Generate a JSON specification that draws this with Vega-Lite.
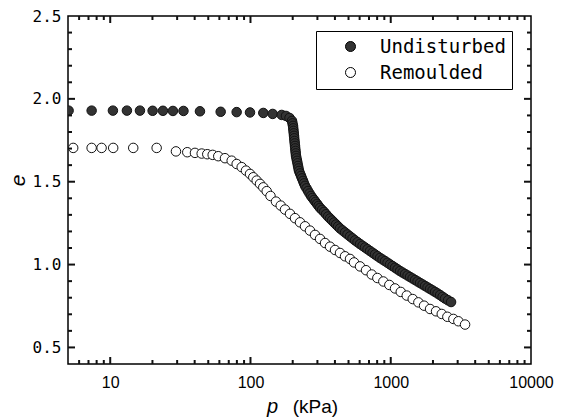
{
  "$schema": "https://vega.github.io/schema/vega-lite/v6.json",
  "width": 463,
  "height": 348,
  "autosize": {"type": "none"},
  "padding": {"left": 68, "top": 16, "right": 30, "bottom": 53},
  "background": "white",
  "datasets": {
    "pts": [
    {"p": 5.05, "e": 1.929, "s": "Undisturbed"},
    {"p": 7.37, "e": 1.929, "s": "Undisturbed"},
    {"p": 10.45, "e": 1.929, "s": "Undisturbed"},
    {"p": 13.15, "e": 1.929, "s": "Undisturbed"},
    {"p": 16.29, "e": 1.929, "s": "Undisturbed"},
    {"p": 20.06, "e": 1.928, "s": "Undisturbed"},
    {"p": 23.76, "e": 1.928, "s": "Undisturbed"},
    {"p": 28.0, "e": 1.927, "s": "Undisturbed"},
    {"p": 33.28, "e": 1.927, "s": "Undisturbed"},
    {"p": 43.63, "e": 1.925, "s": "Undisturbed"},
    {"p": 61.3, "e": 1.922, "s": "Undisturbed"},
    {"p": 79.7, "e": 1.92, "s": "Undisturbed"},
    {"p": 99.2, "e": 1.918, "s": "Undisturbed"},
    {"p": 123.4, "e": 1.915, "s": "Undisturbed"},
    {"p": 144.0, "e": 1.909, "s": "Undisturbed"},
    {"p": 167.0, "e": 1.903, "s": "Undisturbed"},
    {"p": 179.1, "e": 1.897, "s": "Undisturbed"},
    {"p": 189.8, "e": 1.885, "s": "Undisturbed"},
    {"p": 197.7, "e": 1.867, "s": "Undisturbed"},
    {"p": 199.3, "e": 1.852, "s": "Undisturbed"},
    {"p": 201.0, "e": 1.837, "s": "Undisturbed"},
    {"p": 201.8, "e": 1.822, "s": "Undisturbed"},
    {"p": 202.7, "e": 1.807, "s": "Undisturbed"},
    {"p": 203.5, "e": 1.792, "s": "Undisturbed"},
    {"p": 204.3, "e": 1.777, "s": "Undisturbed"},
    {"p": 205.1, "e": 1.762, "s": "Undisturbed"},
    {"p": 206.0, "e": 1.746, "s": "Undisturbed"},
    {"p": 206.8, "e": 1.731, "s": "Undisturbed"},
    {"p": 207.7, "e": 1.716, "s": "Undisturbed"},
    {"p": 208.5, "e": 1.701, "s": "Undisturbed"},
    {"p": 209.4, "e": 1.686, "s": "Undisturbed"},
    {"p": 210.2, "e": 1.671, "s": "Undisturbed"},
    {"p": 211.1, "e": 1.656, "s": "Undisturbed"},
    {"p": 212.8, "e": 1.641, "s": "Undisturbed"},
    {"p": 214.6, "e": 1.626, "s": "Undisturbed"},
    {"p": 216.4, "e": 1.611, "s": "Undisturbed"},
    {"p": 218.2, "e": 1.595, "s": "Undisturbed"},
    {"p": 220.0, "e": 1.58, "s": "Undisturbed"},
    {"p": 221.8, "e": 1.565, "s": "Undisturbed"},
    {"p": 225.5, "e": 1.55, "s": "Undisturbed"},
    {"p": 229.2, "e": 1.535, "s": "Undisturbed"},
    {"p": 233.0, "e": 1.52, "s": "Undisturbed"},
    {"p": 236.9, "e": 1.505, "s": "Undisturbed"},
    {"p": 240.8, "e": 1.49, "s": "Undisturbed"},
    {"p": 244.8, "e": 1.475, "s": "Undisturbed"},
    {"p": 250.9, "e": 1.46, "s": "Undisturbed"},
    {"p": 257.2, "e": 1.444, "s": "Undisturbed"},
    {"p": 263.6, "e": 1.429, "s": "Undisturbed"},
    {"p": 270.2, "e": 1.414, "s": "Undisturbed"},
    {"p": 276.9, "e": 1.402, "s": "Undisturbed"},
    {"p": 283.8, "e": 1.39, "s": "Undisturbed"},
    {"p": 290.9, "e": 1.378, "s": "Undisturbed"},
    {"p": 298.2, "e": 1.366, "s": "Undisturbed"},
    {"p": 305.6, "e": 1.354, "s": "Undisturbed"},
    {"p": 313.2, "e": 1.342, "s": "Undisturbed"},
    {"p": 323.7, "e": 1.33, "s": "Undisturbed"},
    {"p": 334.5, "e": 1.318, "s": "Undisturbed"},
    {"p": 345.6, "e": 1.304, "s": "Undisturbed"},
    {"p": 357.1, "e": 1.29, "s": "Undisturbed"},
    {"p": 369.1, "e": 1.278, "s": "Undisturbed"},
    {"p": 381.4, "e": 1.266, "s": "Undisturbed"},
    {"p": 394.1, "e": 1.254, "s": "Undisturbed"},
    {"p": 407.3, "e": 1.242, "s": "Undisturbed"},
    {"p": 420.9, "e": 1.23, "s": "Undisturbed"},
    {"p": 434.9, "e": 1.218, "s": "Undisturbed"},
    {"p": 453.1, "e": 1.206, "s": "Undisturbed"},
    {"p": 472.1, "e": 1.194, "s": "Undisturbed"},
    {"p": 491.6, "e": 1.182, "s": "Undisturbed"},
    {"p": 512.5, "e": 1.17, "s": "Undisturbed"},
    {"p": 534.0, "e": 1.158, "s": "Undisturbed"},
    {"p": 556.4, "e": 1.146, "s": "Undisturbed"},
    {"p": 579.7, "e": 1.135, "s": "Undisturbed"},
    {"p": 604.0, "e": 1.124, "s": "Undisturbed"},
    {"p": 629.3, "e": 1.1135, "s": "Undisturbed"},
    {"p": 655.7, "e": 1.103, "s": "Undisturbed"},
    {"p": 683.2, "e": 1.0925, "s": "Undisturbed"},
    {"p": 711.8, "e": 1.082, "s": "Undisturbed"},
    {"p": 741.6, "e": 1.0715, "s": "Undisturbed"},
    {"p": 772.7, "e": 1.061, "s": "Undisturbed"},
    {"p": 805.0, "e": 1.0505, "s": "Undisturbed"},
    {"p": 838.8, "e": 1.04, "s": "Undisturbed"},
    {"p": 873.9, "e": 1.0305, "s": "Undisturbed"},
    {"p": 910.5, "e": 1.021, "s": "Undisturbed"},
    {"p": 948.8, "e": 1.011, "s": "Undisturbed"},
    {"p": 988.6, "e": 1.001, "s": "Undisturbed"},
    {"p": 1030, "e": 0.991, "s": "Undisturbed"},
    {"p": 1073, "e": 0.981, "s": "Undisturbed"},
    {"p": 1118, "e": 0.971, "s": "Undisturbed"},
    {"p": 1165, "e": 0.961, "s": "Undisturbed"},
    {"p": 1214, "e": 0.952, "s": "Undisturbed"},
    {"p": 1265, "e": 0.943, "s": "Undisturbed"},
    {"p": 1318, "e": 0.934, "s": "Undisturbed"},
    {"p": 1373, "e": 0.925, "s": "Undisturbed"},
    {"p": 1431, "e": 0.916, "s": "Undisturbed"},
    {"p": 1491, "e": 0.907, "s": "Undisturbed"},
    {"p": 1553, "e": 0.898, "s": "Undisturbed"},
    {"p": 1618, "e": 0.889, "s": "Undisturbed"},
    {"p": 1686, "e": 0.88, "s": "Undisturbed"},
    {"p": 1757, "e": 0.871, "s": "Undisturbed"},
    {"p": 1830, "e": 0.862, "s": "Undisturbed"},
    {"p": 1907, "e": 0.853, "s": "Undisturbed"},
    {"p": 1987, "e": 0.844, "s": "Undisturbed"},
    {"p": 2070, "e": 0.835, "s": "Undisturbed"},
    {"p": 2157, "e": 0.8255, "s": "Undisturbed"},
    {"p": 2248, "e": 0.816, "s": "Undisturbed"},
    {"p": 2342, "e": 0.8055, "s": "Undisturbed"},
    {"p": 2440, "e": 0.795, "s": "Undisturbed"},
    {"p": 2563, "e": 0.7845, "s": "Undisturbed"},
    {"p": 2692, "e": 0.774, "s": "Undisturbed"},
    {"p": 5.445, "e": 1.704, "s": "Remoulded"},
    {"p": 7.37, "e": 1.704, "s": "Remoulded"},
    {"p": 8.68, "e": 1.704, "s": "Remoulded"},
    {"p": 10.5, "e": 1.704, "s": "Remoulded"},
    {"p": 14.59, "e": 1.704, "s": "Remoulded"},
    {"p": 21.43, "e": 1.704, "s": "Remoulded"},
    {"p": 29.42, "e": 1.683, "s": "Remoulded"},
    {"p": 35.42, "e": 1.678, "s": "Remoulded"},
    {"p": 40.19, "e": 1.674, "s": "Remoulded"},
    {"p": 44.87, "e": 1.67, "s": "Remoulded"},
    {"p": 49.19, "e": 1.666, "s": "Remoulded"},
    {"p": 53.76, "e": 1.662, "s": "Remoulded"},
    {"p": 58.93, "e": 1.654, "s": "Remoulded"},
    {"p": 65.8, "e": 1.642, "s": "Remoulded"},
    {"p": 73.44, "e": 1.627, "s": "Remoulded"},
    {"p": 79.71, "e": 1.607, "s": "Remoulded"},
    {"p": 86.55, "e": 1.588, "s": "Remoulded"},
    {"p": 92.87, "e": 1.567, "s": "Remoulded"},
    {"p": 99.18, "e": 1.547, "s": "Remoulded"},
    {"p": 104.7, "e": 1.527, "s": "Remoulded"},
    {"p": 110.7, "e": 1.507, "s": "Remoulded"},
    {"p": 116.9, "e": 1.487, "s": "Remoulded"},
    {"p": 123.4, "e": 1.466, "s": "Remoulded"},
    {"p": 130.5, "e": 1.443, "s": "Remoulded"},
    {"p": 138.9, "e": 1.414, "s": "Remoulded"},
    {"p": 152.0, "e": 1.38, "s": "Remoulded"},
    {"p": 164.3, "e": 1.356, "s": "Remoulded"},
    {"p": 176.3, "e": 1.332, "s": "Remoulded"},
    {"p": 191.3, "e": 1.306, "s": "Remoulded"},
    {"p": 207.7, "e": 1.28, "s": "Remoulded"},
    {"p": 225.5, "e": 1.255, "s": "Remoulded"},
    {"p": 244.8, "e": 1.231, "s": "Remoulded"},
    {"p": 265.7, "e": 1.205, "s": "Remoulded"},
    {"p": 288.5, "e": 1.179, "s": "Remoulded"},
    {"p": 313.2, "e": 1.155, "s": "Remoulded"},
    {"p": 340.0, "e": 1.13, "s": "Remoulded"},
    {"p": 369.0, "e": 1.108, "s": "Remoulded"},
    {"p": 400.6, "e": 1.088, "s": "Remoulded"},
    {"p": 434.9, "e": 1.07, "s": "Remoulded"},
    {"p": 472.1, "e": 1.05, "s": "Remoulded"},
    {"p": 512.5, "e": 1.034, "s": "Remoulded"},
    {"p": 547.4, "e": 1.013, "s": "Remoulded"},
    {"p": 604.0, "e": 0.989, "s": "Remoulded"},
    {"p": 666.5, "e": 0.966, "s": "Remoulded"},
    {"p": 732.0, "e": 0.94, "s": "Remoulded"},
    {"p": 802.7, "e": 0.919, "s": "Remoulded"},
    {"p": 885.4, "e": 0.898, "s": "Remoulded"},
    {"p": 977.2, "e": 0.877, "s": "Remoulded"},
    {"p": 1073, "e": 0.856, "s": "Remoulded"},
    {"p": 1179, "e": 0.835, "s": "Remoulded"},
    {"p": 1301, "e": 0.813, "s": "Remoulded"},
    {"p": 1435, "e": 0.792, "s": "Remoulded"},
    {"p": 1574, "e": 0.772, "s": "Remoulded"},
    {"p": 1728, "e": 0.752, "s": "Remoulded"},
    {"p": 1907, "e": 0.732, "s": "Remoulded"},
    {"p": 2104, "e": 0.718, "s": "Remoulded"},
    {"p": 2311, "e": 0.702, "s": "Remoulded"},
    {"p": 2533, "e": 0.685, "s": "Remoulded"},
    {"p": 2796, "e": 0.672, "s": "Remoulded"},
    {"p": 3035, "e": 0.658, "s": "Remoulded"},
    {"p": 3388, "e": 0.638, "s": "Remoulded"}
    ],
    "xt": [
      {"v": 6, "k": "minor"}, {"v": 7, "k": "minor"}, {"v": 8, "k": "minor"}, {"v": 9, "k": "minor"},
      {"v": 10, "k": "major"},
      {"v": 20, "k": "minor"}, {"v": 30, "k": "minor"}, {"v": 40, "k": "minor"}, {"v": 50, "k": "minor"},
      {"v": 60, "k": "minor"}, {"v": 70, "k": "minor"}, {"v": 80, "k": "minor"}, {"v": 90, "k": "minor"},
      {"v": 100, "k": "major"},
      {"v": 200, "k": "minor"}, {"v": 300, "k": "minor"}, {"v": 400, "k": "minor"}, {"v": 500, "k": "minor"},
      {"v": 600, "k": "minor"}, {"v": 700, "k": "minor"}, {"v": 800, "k": "minor"}, {"v": 900, "k": "minor"},
      {"v": 1000, "k": "major"},
      {"v": 2000, "k": "minor"}, {"v": 3000, "k": "minor"}, {"v": 4000, "k": "minor"}, {"v": 5000, "k": "minor"},
      {"v": 6000, "k": "minor"}, {"v": 7000, "k": "minor"}, {"v": 8000, "k": "minor"}, {"v": 9000, "k": "minor"}
    ],
    "yt": [
      {"v": 0.5, "k": "major"}, {"v": 0.6, "k": "minor"}, {"v": 0.7, "k": "minor"}, {"v": 0.8, "k": "minor"}, {"v": 0.9, "k": "minor"},
      {"v": 1.0, "k": "major"}, {"v": 1.1, "k": "minor"}, {"v": 1.2, "k": "minor"}, {"v": 1.3, "k": "minor"}, {"v": 1.4, "k": "minor"},
      {"v": 1.5, "k": "major"}, {"v": 1.6, "k": "minor"}, {"v": 1.7, "k": "minor"}, {"v": 1.8, "k": "minor"}, {"v": 1.9, "k": "minor"},
      {"v": 2.0, "k": "major"}, {"v": 2.1, "k": "minor"}, {"v": 2.2, "k": "minor"}, {"v": 2.3, "k": "minor"}, {"v": 2.4, "k": "minor"}
    ]
  },
  "layer": [
    {
      "data": {"name": "pts"},
      "mark": {"type": "point", "shape": "circle", "filled": true, "stroke": "#111111", "strokeWidth": 1, "size": 90, "opacity": 1, "clip": true},
      "encoding": {
        "x": {"field": "p", "type": "quantitative",
          "scale": {"type": "log", "domain": [5, 10000], "nice": false},
          "axis": {"orient": "bottom", "values": [10, 100, 1000, 10000], "format": "d", "ticks": false,
            "labelPadding": 10, "labelFont": "Liberation Sans", "labelFontSize": 16,
            "title": "p", "titleFontStyle": "italic", "titleFont": "Liberation Sans", "titleFontSize": 20, "titleFontWeight": "normal",
            "titleX": 204, "titleY": 48, "titleAlign": "center", "titleBaseline": "alphabetic"}},
        "y": {"field": "e", "type": "quantitative",
          "scale": {"domain": [0.4, 2.5], "nice": false, "zero": false},
          "axis": {"orient": "left", "values": [0.5, 1.0, 1.5, 2.0, 2.5], "format": ".1f", "ticks": false,
            "labelPadding": 7, "labelFont": "DejaVu Sans Mono", "labelFontSize": 16,
            "title": "e", "titleFontStyle": "italic", "titleFont": "Liberation Sans", "titleFontSize": 21, "titleFontWeight": "normal",
            "titleX": -50, "titleY": 164, "titleAlign": "center", "titleAngle": -90, "titleBaseline": "middle"}},
        "fill": {"field": "s", "type": "nominal",
          "scale": {"domain": ["Undisturbed", "Remoulded"], "range": ["#333333", "#ffffff"]},
          "legend": {"orient": "none", "legendX": 248, "legendY": 15, "title": null}}
      }
    },
    {
      "data": {"name": "xt"},
      "mark": {"type": "tick", "orient": "vertical", "thickness": 2, "color": "#111111", "opacity": 1, "clip": true},
      "encoding": {
        "x": {"field": "v", "type": "quantitative",
          "scale": {"type": "log", "domain": [5, 10000], "nice": false},
          "axis": {"orient": "bottom", "values": [10], "labels": false, "ticks": false, "domain": false,
            "title": "(kPa)", "titleFont": "Liberation Sans", "titleFontSize": 19, "titleFontWeight": "normal", "titleFontStyle": "normal",
            "titleX": 247, "titleY": 48, "titleAlign": "center", "titleBaseline": "alphabetic"}},
        "y": {"datum": 0.4, "type": "quantitative", "scale": {"domain": [0.4, 2.5], "nice": false, "zero": false}, "axis": null},
        "size": {"field": "k", "type": "nominal", "scale": {"domain": ["major", "minor"], "range": [14, 8]}, "legend": null}
      }
    },
    {
      "data": {"name": "xt"},
      "mark": {"type": "tick", "orient": "vertical", "thickness": 2, "color": "#111111", "opacity": 1, "clip": true},
      "encoding": {
        "x": {"field": "v", "type": "quantitative", "scale": {"type": "log", "domain": [5, 10000], "nice": false}, "axis": null},
        "y": {"datum": 2.5, "type": "quantitative", "scale": {"domain": [0.4, 2.5], "nice": false, "zero": false}, "axis": null},
        "size": {"field": "k", "type": "nominal", "scale": {"domain": ["major", "minor"], "range": [14, 8]}, "legend": null}
      }
    },
    {
      "data": {"name": "yt"},
      "mark": {"type": "tick", "orient": "horizontal", "thickness": 2, "color": "#111111", "opacity": 1, "clip": true},
      "encoding": {
        "y": {"field": "v", "type": "quantitative", "scale": {"domain": [0.4, 2.5], "nice": false, "zero": false}, "axis": null},
        "x": {"datum": 5, "type": "quantitative", "scale": {"type": "log", "domain": [5, 10000], "nice": false}, "axis": null},
        "size": {"field": "k", "type": "nominal", "scale": {"domain": ["major", "minor"], "range": [14, 9]}, "legend": null}
      }
    },
    {
      "data": {"name": "yt"},
      "mark": {"type": "tick", "orient": "horizontal", "thickness": 2, "color": "#111111", "opacity": 1, "clip": true},
      "encoding": {
        "y": {"field": "v", "type": "quantitative", "scale": {"domain": [0.4, 2.5], "nice": false, "zero": false}, "axis": null},
        "x": {"datum": 10000, "type": "quantitative", "scale": {"type": "log", "domain": [5, 10000], "nice": false}, "axis": null},
        "size": {"field": "k", "type": "nominal", "scale": {"domain": ["major", "minor"], "range": [14, 9]}, "legend": null}
      }
    }
  ],
  "resolve": {"axis": {"x": "independent", "y": "independent"}},
  "config": {
    "view": {"stroke": "black", "strokeWidth": 1.5},
    "axis": {"domain": false, "grid": false, "labelColor": "black", "titleColor": "black", "labelOverlap": false, "labelFlush": false},
    "legend": {"strokeColor": "black", "strokeWidth": 1, "fillColor": "white", "padding": 6, "symbolOffset": 19, "labelOffset": 20,
      "labelFont": "DejaVu Sans Mono", "labelFontSize": 19, "labelColor": "black", "symbolSize": 100, "rowPadding": 6,
      "symbolStrokeColor": "black", "symbolStrokeWidth": 1, "symbolType": "circle", "labelLimit": 300}
  }
}
